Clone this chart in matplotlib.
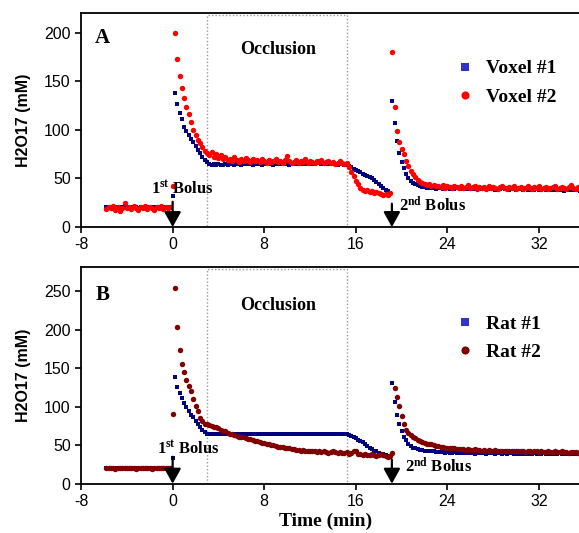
import numpy as np
import matplotlib
matplotlib.use('Agg')
import matplotlib.pyplot as plt
from matplotlib.patches import Rectangle

plt.rcParams['mathtext.fontset'] = 'custom'
plt.rcParams['mathtext.rm'] = 'Liberation Serif:bold'
plt.rcParams['mathtext.bf'] = 'Liberation Serif:bold'
plt.rcParams['mathtext.it'] = 'Liberation Serif:bold'
plt.rcParams['axes.unicode_minus'] = False

# ---------------- data ----------------
DT = 0.2                       # sampling interval (min)
seg_starts = [-5.8, 0.0, 19.2]  # baseline, after 1st bolus, after 2nd bolus
x_ticks = [-8, 0, 8, 16, 24, 32]
yticks_A = [0, 50, 100, 150, 200]
yticks_B = [0, 50, 100, 150, 200, 250]
occlusion = (3.0, 15.25)
bolus_times = [0.0, 19.15]

voxel1_base = [21, 20, 21, 21, 20, 21, 20, 21, 21, 20,
               21, 21, 20, 21, 20, 21, 21, 20, 21, 20,
               21, 21, 20, 21, 20, 21, 20, 21, 20]
voxel1_b1 = [32,
             138, 126, 117, 111, 103, 99, 95, 91, 87, 83, 79, 76, 72, 69, 67, 65,
             64, 65, 64, 65, 64, 64, 65, 64, 65, 65,
             64, 65, 65, 64, 65, 65, 66, 65, 64, 65,
             65, 65, 64, 65, 66, 65, 65, 64, 65, 65,
             65, 66, 65, 65, 64, 65, 66, 65, 65, 65,
             66, 65, 65, 66, 65, 65, 66, 66, 65, 65,
             66, 65, 66, 65, 65, 64, 65, 65, 64, 64,
             63, 62, 60, 59, 58, 57, 55, 54, 53, 51, 50, 48, 46, 44, 42, 40, 38, 37, 35]
voxel1_b2 = [130, 107, 88, 76, 67, 61, 55, 50, 47, 45,
             44, 43, 42, 41, 41, 40, 41, 40, 40, 39,
             40, 40, 39, 40, 40, 39, 40, 39, 40, 40,
             39, 40, 39, 39, 40, 39, 40, 39, 39, 40,
             39, 39, 40, 39, 39, 38, 39, 39, 40, 39,
             39, 38, 39, 39, 38, 39, 39, 38, 39, 38,
             39, 38, 38, 39, 38, 38, 39, 38, 38, 38,
             38, 39, 38, 38, 38, 37, 38, 38, 38, 38,
             38, 38, 37, 38]

voxel2_base = [19, 21, 20, 22, 18, 21, 17, 20, 25, 20,
               21, 19, 22, 20, 18, 21, 20, 22, 19, 21,
               20, 18, 21, 20, 22, 19, 21, 20, 21]
voxel2_b1 = [42,
             200, 173, 155, 143, 133, 123, 116, 108, 100, 95, 90, 86, 82, 78, 76, 74,
             77, 72, 75, 71, 74, 70, 72, 69, 70, 68,
             72, 69, 67, 70, 68, 71, 69, 67, 70, 68,
             69, 67, 70, 68, 66, 69, 67, 68, 70, 67,
             68, 66, 69, 73, 68, 66, 67, 69, 66, 68,
             67, 70, 66, 68, 67, 66, 68, 67, 69, 66,
             67, 68, 66, 67, 65, 66, 68, 66, 65, 66,
             62, 57, 52, 47, 44, 40, 38, 37, 38, 36, 37, 35, 36, 35, 34, 33, 34, 33, 35]
voxel2_b2 = [180, 123, 99, 87, 80, 75, 68, 63, 58, 55,
             51, 48, 46, 45, 44, 43, 44, 42, 43, 42,
             42, 41, 43, 40, 42, 41, 40, 42, 41, 40,
             42, 40, 41, 43, 40, 41, 42, 39, 41, 40,
             41, 39, 42, 40, 41, 40, 39, 41, 42, 40,
             39, 41, 40, 42, 39, 40, 41, 39, 40, 42,
             40, 39, 41, 40, 42, 39, 40, 41, 39, 40,
             41, 42, 39, 40, 41, 40, 39, 41, 43, 40,
             39, 41, 40, 42]

rat1_base = [21, 21, 21, 20, 21, 21, 20, 21, 21, 21,
             21, 20, 21, 21, 21, 20, 21, 21, 21, 21,
             20, 21, 21, 21, 20, 21, 21, 21, 21]
rat1_b1 = [33,
           139, 125, 118, 111, 105, 99, 94, 89, 86, 82, 78, 74, 70, 67, 65,
           65, 64, 65, 65, 64, 65, 64, 64, 65, 65,
           65, 64, 65, 65, 64, 65, 65, 65, 64, 65,
           65, 65, 64, 65, 65, 65, 64, 65, 65, 65,
           65, 64, 65, 65, 65, 65, 64, 65, 65, 65,
           65, 65, 64, 65, 65, 65, 65, 64, 65, 65,
           64, 65, 65, 65, 64, 65, 65, 64, 64, 65,
           64,
           63, 62, 60, 59, 57, 56, 54, 52, 49, 46, 45, 43, 42, 40, 39, 38, 37, 36, 35]
rat1_b2 = [131, 106, 89, 78, 68, 61, 57, 52, 49, 47,
           46, 45, 44, 44, 43, 43, 42, 42, 42, 41,
           41, 41, 41, 40, 41, 40, 40, 41, 40, 40,
           40, 40, 40, 41, 40, 40, 39, 40, 40, 40,
           40, 39, 40, 40, 40, 39, 40, 40, 39, 40,
           39, 40, 40, 39, 40, 39, 39, 40, 39, 39,
           39, 39, 40, 39, 39, 39, 40, 39, 39, 39,
           39, 39, 39, 40, 39, 39, 39, 39, 39, 39,
           39, 39, 39, 39]

rat2_base = [20, 20, 21, 20, 19, 20, 20, 21, 20, 20,
             21, 20, 20, 19, 21, 20, 20, 21, 20, 20,
             19, 20, 21, 20, 20, 21, 20, 20, 21]
rat2_b1 = [90,
           254, 203, 174, 156, 145, 135, 127, 120, 110, 101, 94, 85, 81, 78, 77,
           76, 75, 74, 73, 72, 70, 69, 68, 66, 65,
           64, 63, 62, 61, 61, 60, 59, 58, 58, 57,
           56, 55, 54, 53, 53, 52, 51, 50, 50, 49,
           48, 48, 48, 47, 46, 46, 45, 45, 44, 44,
           43, 44, 43, 42, 43, 42, 42, 41, 42, 41,
           42, 41, 40, 41, 42, 41, 40, 41, 40, 40,
           41,
           39, 40, 42, 43, 39, 38, 37, 38, 37, 37, 38, 37, 36, 37, 38, 37, 36, 35, 36]
rat2_b2 = [40, 124, 113, 101, 88, 78, 70, 66, 63, 61,
           59, 57, 55, 54, 53, 52, 51, 51, 50, 49,
           49, 48, 48, 47, 47, 46, 46, 46, 45, 45,
           45, 45, 44, 45, 44, 44, 45, 44, 44, 43,
           44, 43, 44, 43, 43, 44, 43, 43, 42, 43,
           43, 42, 43, 42, 42, 43, 42, 42, 41, 42,
           42, 41, 42, 42, 41, 42, 41, 41, 42, 41,
           41, 42, 41, 41, 42, 41, 41, 40, 41, 41,
           41, 40, 41, 41]


def series_xy(segments):
    ts, vs = [], []
    for start, vals in zip(seg_starts, segments):
        ts.append(start + DT * np.arange(len(vals)))
        vs.append(np.asarray(vals, float))
    return np.concatenate(ts), np.concatenate(vs)


SERIF = 'Liberation Serif'
SANS = 'Liberation Sans'

fig = plt.figure(figsize=(5.79, 5.33), dpi=100)
axA = fig.add_axes([0.140, 0.574, 0.870, 0.4015])
axB = fig.add_axes([0.140, 0.0925, 0.870, 0.406])

panels = [
    dict(ax=axA, letter='A', ylim=(0, 220), yticks=yticks_A, occ_top=218,
         s1=('Voxel #1', [voxel1_base, voxel1_b1, voxel1_b2], '#000080'),
         s2=('Voxel #2', [voxel2_base, voxel2_b1, voxel2_b2], '#ff0000'),
         arrow_top=(26, 24), b1_text=(-1.85, 34.5), b2_text=(19.8, 16.5),
         occ_text=(9.2, 183), letter_y=0.861, leg_y=0.782),
    dict(ax=axB, letter='B', ylim=(0, 281), yticks=yticks_B, occ_top=279,
         s1=('Rat #1', [rat1_base, rat1_b1, rat1_b2], '#000080'),
         s2=('Rat #2', [rat2_base, rat2_b1, rat2_b2], '#800000'),
         arrow_top=(35, 31), b1_text=(-1.4, 39.5), b2_text=(20.3, 14.3),
         occ_text=(9.2, 232), letter_y=0.849, leg_y=0.778),
]

for p in panels:
    ax = p['ax']
    ax.set_xlim(-8, 36)
    ax.set_ylim(*p['ylim'])
    ax.set_xticks(x_ticks)
    ax.set_yticks(p['yticks'])
    for lab in ax.get_xticklabels() + ax.get_yticklabels():
        lab.set_fontfamily(SANS)
        lab.set_fontsize(11.5)
    ax.tick_params(direction='out', length=4, width=1.2, pad=3.5, colors='black')
    for side in ['left', 'bottom', 'top', 'right']:
        ax.spines[side].set_linewidth(1.3)
        ax.spines[side].set_color('black')
    ax.set_ylabel('H2O17 (mM)', fontfamily=SANS, fontweight='bold', fontsize=11.5)
    ax.yaxis.set_label_coords(-0.10, 0.5)

    # occlusion box
    ax.add_patch(Rectangle((occlusion[0], 0), occlusion[1] - occlusion[0], p['occ_top'],
                           fill=False, edgecolor='#9a9a9a', linestyle=(0, (1, 1.5)),
                           linewidth=1.0, zorder=1))
    ax.text(p['occ_text'][0], p['occ_text'][1], 'Occlusion', fontfamily=SERIF,
            fontweight='bold', fontsize=13, ha='center', va='center')

    n1, segs1, c1 = p['s1']
    n2, segs2, c2 = p['s2']
    t1, v1 = series_xy(segs1)
    t2, v2 = series_xy(segs2)
    ax.plot(t1, v1, linestyle='none', marker='s', ms=3.4, mew=0, color=c1,
            label=n1, zorder=3)
    ax.plot(t2, v2, linestyle='none', marker='o', ms=3.9, mew=0, color=c2,
            label=n2, zorder=4)

    # bolus arrows
    for bt, top in zip(bolus_times, p['arrow_top']):
        ax.annotate('', xy=(bt, 0), xytext=(bt, top),
                    arrowprops=dict(arrowstyle='-|>,head_length=0.65,head_width=0.36',
                                    mutation_scale=14, lw=1.6, color='black',
                                    shrinkA=0, shrinkB=0), zorder=6)
    ax.text(p['b1_text'][0], p['b1_text'][1], r'1$^{\mathrm{st}}$ Bolus', fontfamily=SERIF,
            fontweight='bold', fontsize=12, ha='left', va='baseline', zorder=7)
    ax.text(p['b2_text'][0], p['b2_text'][1], r'2$^{\mathrm{nd}}$ Bolus', fontfamily=SERIF,
            fontweight='bold', fontsize=12, ha='left', va='baseline', zorder=7)

    ax.text(0.028, p['letter_y'], p['letter'], transform=ax.transAxes, fontfamily=SERIF,
            fontweight='bold', fontsize=15, ha='left', va='baseline')

    leg = ax.legend(loc='upper left', bbox_to_anchor=(0.742, p['leg_y']), frameon=False,
                    prop=dict(family=SERIF, weight='bold', size=14), markerscale=1.5,
                    handlelength=1.0, handletextpad=0.6, labelspacing=0.55,
                    borderpad=0, borderaxespad=0)
    leg.legend_handles[0].set_color('#3333cc')

axB.set_xlabel('Time (min)', fontfamily=SERIF, fontweight='bold', fontsize=14)
axB.xaxis.set_label_coords((13.4 + 8) / 44, -0.135)

fig.savefig('out.png', dpi=100)
